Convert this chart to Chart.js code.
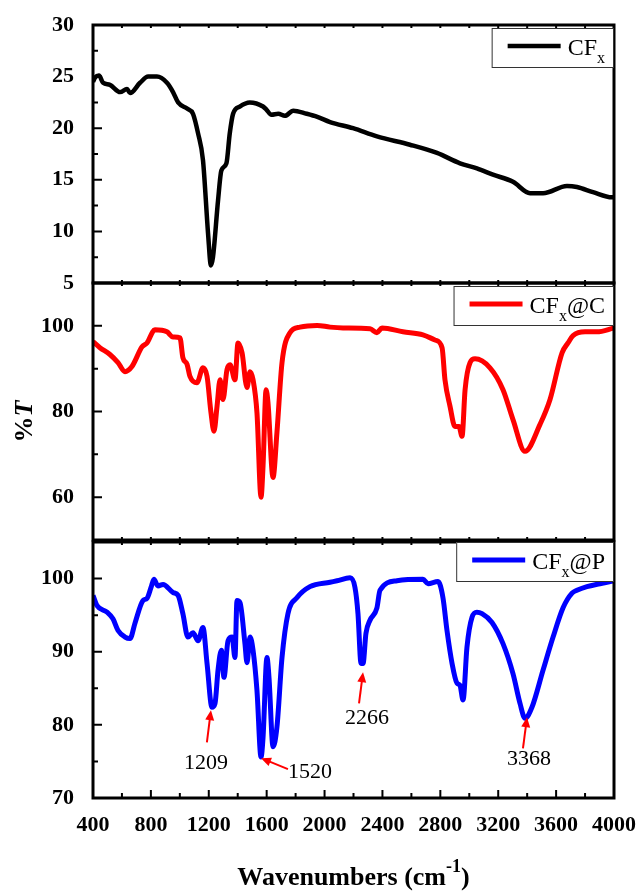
<!DOCTYPE html>
<html>
<head>
<meta charset="utf-8">
<script src="https://cdn.jsdelivr.net/npm/chart.js@4.4.1/dist/chart.umd.min.js"></script>
<style>
    html, body { margin: 0; padding: 0; background: #fff; }
    #wrap { position: relative; width: 642px; height: 893px; }
    canvas { position: absolute; left: 0; top: 0; }
</style>
</head>
<body>
<div id="wrap">
    <canvas id="panel1" width="642" height="893"></canvas>
    <canvas id="panel2" width="642" height="893"></canvas>
    <canvas id="panel3" width="642" height="893"></canvas>
</div>
<script>
// Data
const xTicks = [400, 800, 1200, 1600, 2000, 2400, 2800, 3200, 3600, 4000];
const yTicks1 = [5, 10, 15, 20, 25, 30];
const yTicks2 = [60, 80, 100];
const yTicks3 = [70, 80, 90, 100];

// CFx
const cfxWave = [400, 414, 441, 470, 517, 587, 635, 656, 725, 781, 842, 911, 953, 988, 1050, 1091, 1126, 1160, 1195, 1215, 1229, 1264, 1287, 1322, 1345, 1368, 1414, 1483, 1575, 1598, 1633, 1680, 1726, 1784, 1876, 1950, 2038, 2197, 2362, 2590, 2777, 2936, 3053, 3164, 3302, 3420, 3510, 3675, 3744, 3855, 3986, 4000];
const cfxT = [24.5, 24.9, 25.1, 24.4, 24.2, 23.5, 23.8, 23.4, 24.4, 25.0, 25.0, 24.4, 23.5, 22.5, 21.9, 21.4, 19.5, 16.9, 9.8, 6.7, 7.5, 13.0, 15.9, 16.6, 19.5, 21.4, 22.1, 22.5, 22.1, 21.8, 21.3, 21.4, 21.2, 21.7, 21.4, 21.1, 20.6, 20.0, 19.2, 18.4, 17.6, 16.6, 16.1, 15.5, 14.8, 13.7, 13.7, 14.4, 14.3, 13.8, 13.3, 13.3];

// CFx@C
const cfxcWave = [400, 448, 517, 573, 621, 669, 739, 773, 828, 911, 953, 1001, 1021, 1050, 1070, 1118, 1160, 1188, 1215, 1236, 1257, 1278, 1298, 1326, 1347, 1381, 1402, 1430, 1464, 1485, 1506, 1533, 1561, 1575, 1596, 1609, 1644, 1671, 1706, 1761, 1830, 1948, 2038, 2128, 2314, 2362, 2397, 2542, 2680, 2763, 2812, 2832, 2867, 2901, 2929, 2950, 2971, 3005, 3040, 3143, 3233, 3302, 3385, 3489, 3558, 3641, 3682, 3717, 3800, 3882, 4000];
const cfxcT = [96.3, 94.9, 93.3, 91.4, 89.3, 90.5, 95.1, 96.0, 99.1, 98.6, 97.4, 97.2, 92.6, 91.0, 88.2, 86.7, 90.2, 88.2, 79.8, 75.4, 81.2, 87.4, 82.8, 89.8, 90.9, 87.4, 96.0, 93.7, 85.6, 89.3, 87.4, 79.7, 60.0, 67.3, 85.1, 82.1, 64.6, 75.1, 91.4, 98.4, 99.7, 100.1, 99.7, 99.5, 99.3, 98.4, 99.5, 98.6, 97.9, 96.7, 94.9, 87.4, 81.2, 76.5, 76.5, 74.2, 85.1, 91.4, 92.3, 90.2, 85.1, 78.1, 70.7, 77.0, 82.8, 93.7, 96.0, 97.7, 98.6, 98.6, 99.5];

// CFx@P
const cfxpWave = [400, 428, 497, 538, 573, 621, 656, 690, 745, 773, 801, 821, 849, 884, 953, 988, 1021, 1056, 1091, 1126, 1160, 1188, 1222, 1243, 1264, 1287, 1305, 1333, 1361, 1381, 1395, 1416, 1450, 1464, 1485, 1506, 1533, 1561, 1575, 1602, 1616, 1644, 1671, 1706, 1747, 1810, 1899, 2038, 2086, 2176, 2210, 2231, 2252, 2266, 2286, 2314, 2362, 2383, 2500, 2680, 2715, 2784, 2818, 2846, 2881, 2915, 2936, 2957, 2984, 3019, 3053, 3088, 3157, 3233, 3302, 3351, 3385, 3433, 3510, 3579, 3648, 3710, 3744, 3813, 3903, 4000];
const cfxpT = [97.7, 96.3, 95.4, 94.5, 92.9, 92.0, 91.8, 93.9, 97.0, 97.3, 98.8, 99.9, 99.0, 99.2, 98.1, 97.7, 95.2, 92.0, 92.6, 91.5, 93.3, 88.4, 82.4, 82.9, 87.5, 90.2, 86.5, 91.5, 92.0, 89.2, 97.0, 96.7, 91.1, 88.5, 92.0, 90.2, 84.7, 75.6, 78.3, 89.2, 86.5, 77.0, 79.7, 89.2, 95.2, 97.4, 98.9, 99.5, 99.7, 100.1, 98.8, 95.2, 88.4, 88.4, 92.5, 94.3, 96.0, 98.4, 99.7, 99.9, 99.3, 99.6, 97.4, 92.9, 88.4, 85.7, 85.4, 83.4, 90.6, 94.7, 95.4, 95.2, 94.0, 91.1, 87.0, 82.9, 80.9, 82.4, 87.5, 92.0, 96.0, 98.0, 98.4, 98.9, 99.3, 99.7];

// Marked peaks in the CFx@P panel
const peakLabels = ["1209", "1520", "2266", "3368"];

const serif = '"Liberation Serif", "Times New Roman", serif';

// Box around each panel plus inward ticks
const framePlugin = {
    id: "frame",
    afterDraw(chart, args, opts) {
        const { ctx, chartArea: a, scales } = chart;
        ctx.save();
        ctx.strokeStyle = "#000";
        ctx.lineWidth = 2;
        ctx.beginPath();
        for (let v = 400; v <= 4000; v += 200) {
            const px = scales.x.getPixelForValue(v);
            const major = v % 400 === 0;
            ctx.moveTo(px, a.bottom);
            ctx.lineTo(px, a.bottom - (opts.bigBottom ? (major ? 8 : 5) : 3));
            ctx.moveTo(px, a.top);
            ctx.lineTo(px, a.top + 3);
        }
        for (let v = scales.y.min; v <= scales.y.max + 0.001; v += opts.minorStep) {
            const py = scales.y.getPixelForValue(v);
            const major = opts.majors.includes(v);
            ctx.moveTo(a.left, py);
            ctx.lineTo(a.left + (major ? 9 : 5), py);
        }
        ctx.stroke();
        ctx.lineWidth = 3;
        ctx.strokeRect(a.left, a.top, a.width, a.height);
        ctx.restore();
    }
};

// Boxed legend with subscript x
const specLegendPlugin = {
    id: "specLegend",
    afterDraw(chart, args, opts) {
        const { ctx, chartArea: a } = chart;
        const ds = chart.data.datasets[0];
        const main = ds.label.slice(0, 2);
        const rest = ds.label.slice(3);
        ctx.save();
        ctx.font = "24px " + serif;
        const wMain = ctx.measureText(main).width;
        const wRest = ctx.measureText(rest).width;
        ctx.font = "16px " + serif;
        const wSub = ctx.measureText("x").width;
        const tw = wMain + wSub + wRest;
        const lineLen = 53;
        const boxW = 16 + lineLen + 7 + tw + 8;
        const boxH = 39;
        const right = a.right - 1;
        const left = right - boxW;
        const top = a.top + opts.offsetTop;
        ctx.fillStyle = "#fff";
        ctx.fillRect(left, top, boxW, boxH);
        ctx.strokeStyle = "#333";
        ctx.lineWidth = 1;
        ctx.strokeRect(left + 0.5, top + 0.5, boxW, boxH);
        const cy = top + 18;
        ctx.strokeStyle = ds.borderColor;
        ctx.lineWidth = ds.borderWidth;
        ctx.beginPath();
        ctx.moveTo(left + 16, cy);
        ctx.lineTo(left + 16 + lineLen, cy);
        ctx.stroke();
        ctx.fillStyle = "#000";
        ctx.textBaseline = "alphabetic";
        let tx = left + 16 + lineLen + 7;
        ctx.font = "24px " + serif;
        ctx.fillText(main, tx, cy + 9);
        tx += wMain;
        ctx.font = "16px " + serif;
        ctx.fillText("x", tx, cy + 17);
        tx += wSub;
        ctx.font = "24px " + serif;
        ctx.fillText(rest, tx, cy + 9);
        ctx.restore();
    }
};

// Red arrows with peak positions
const peaksPlugin = {
    id: "peaks",
    afterDraw(chart, args, opts) {
        if (!opts.items) return;
        const { ctx, scales } = chart;
        ctx.save();
        opts.items.forEach((p, i) => {
            const x0 = scales.x.getPixelForValue(p.tail[0]);
            const y0 = scales.y.getPixelForValue(p.tail[1]);
            const x1 = scales.x.getPixelForValue(p.head[0]);
            const y1 = scales.y.getPixelForValue(p.head[1]);
            const ang = Math.atan2(y1 - y0, x1 - x0);
            ctx.strokeStyle = "#f00";
            ctx.fillStyle = "#f00";
            ctx.lineWidth = 2;
            ctx.beginPath();
            ctx.moveTo(x0, y0);
            ctx.lineTo(x1 - 6 * Math.cos(ang), y1 - 6 * Math.sin(ang));
            ctx.stroke();
            ctx.beginPath();
            ctx.moveTo(x1, y1);
            ctx.lineTo(x1 - 10 * Math.cos(ang) + 4.5 * Math.sin(ang), y1 - 10 * Math.sin(ang) - 4.5 * Math.cos(ang));
            ctx.lineTo(x1 - 10 * Math.cos(ang) - 4.5 * Math.sin(ang), y1 - 10 * Math.sin(ang) + 4.5 * Math.cos(ang));
            ctx.closePath();
            ctx.fill();
            ctx.fillStyle = "#000";
            ctx.font = "22px " + serif;
            ctx.textAlign = "center";
            ctx.textBaseline = "middle";
            ctx.fillText(peakLabels[i], scales.x.getPixelForValue(p.label[0]), scales.y.getPixelForValue(p.label[1]));
        });
        ctx.restore();
    }
};

// Axis titles (%T and wavenumbers)
const titlesPlugin = {
    id: "titles",
    afterDraw(chart, args, opts) {
        const { ctx, chartArea: a } = chart;
        ctx.save();
        ctx.fillStyle = "#000";
        if (opts.yTitle) {
            ctx.translate(25, (a.top + a.bottom) / 2 + 10);
            ctx.rotate(-Math.PI / 2);
            ctx.textBaseline = "middle";
            ctx.font = "bold 26px " + serif;
            const w1 = ctx.measureText("%").width;
            ctx.font = "italic bold 26px " + serif;
            const w2 = ctx.measureText("T").width;
            let tx = -(w1 + w2) / 2;
            ctx.font = "bold 26px " + serif;
            ctx.fillText("%", tx, 0);
            ctx.font = "italic bold 26px " + serif;
            ctx.fillText("T", tx + w1, 0);
        }
        if (opts.xTitle) {
            const base = a.bottom + 87;
            ctx.textBaseline = "alphabetic";
            ctx.font = "bold 26px " + serif;
            const s1 = "Wavenumbers (cm";
            const w1 = ctx.measureText(s1).width;
            const w3 = ctx.measureText(")").width;
            ctx.font = "bold 18px " + serif;
            const w2 = ctx.measureText("-1").width;
            let tx = (a.left + a.right) / 2 - (w1 + w2 + w3) / 2;
            ctx.font = "bold 26px " + serif;
            ctx.fillText(s1, tx, base);
            ctx.font = "bold 18px " + serif;
            ctx.fillText("-1", tx + w1, base - 13);
            ctx.font = "bold 26px " + serif;
            ctx.fillText(")", tx + w1 + w2, base);
        }
        ctx.restore();
    }
};

// Build one panel of the stack
function buildPanel(cfg) {
    const canvas = document.getElementById(cfg.canvasId);
    return new Chart(canvas, {
        type: "line",
        data: {
            datasets: [{
                label: cfg.label,
                data: cfg.wave.map((w, i) => ({ x: w, y: cfg.t[i] })),
                borderColor: cfg.color,
                borderWidth: cfg.lineWidth,
                pointRadius: 0,
                cubicInterpolationMode: "monotone",
                fill: false
            }]
        },
        options: {
            responsive: false,
            animation: false,
            devicePixelRatio: 1,
            events: [],
            layout: { padding: { left: 0, right: 28, top: cfg.padTop, bottom: cfg.padBottom } },
            plugins: {
                legend: { display: false },
                tooltip: { enabled: false },
                frame: { minorStep: cfg.minorStep, majors: cfg.yTicks, bigBottom: cfg.showX },
                specLegend: { offsetTop: cfg.legendTop },
                peaks: { items: cfg.peaks },
                titles: { yTitle: cfg.yTitle, xTitle: cfg.showX }
            },
            scales: {
                x: {
                    type: "linear",
                    min: 400,
                    max: 4000,
                    display: cfg.showX,
                    afterBuildTicks: s => { s.ticks = xTicks.map(v => ({ value: v })); },
                    afterFit: s => {
                        if (cfg.showX) s.height = 95;
                        s.paddingLeft = 0;
                        s.paddingRight = 0;
                    },
                    grid: { display: false },
                    border: { display: false },
                    ticks: {
                        color: "#000",
                        font: { family: serif, size: 22, weight: "bold" },
                        padding: 6,
                        maxRotation: 0,
                        autoSkip: false,
                        callback: v => String(v)
                    }
                },
                y: {
                    min: cfg.yMin,
                    max: cfg.yMax,
                    afterBuildTicks: s => { s.ticks = cfg.yTicks.map(v => ({ value: v })); },
                    afterFit: s => { s.width = 93; },
                    grid: { display: false },
                    border: { display: false },
                    ticks: { color: "#000", font: { family: serif, size: 22, weight: "bold" }, padding: 11 }
                }
            }
        },
        plugins: [framePlugin, specLegendPlugin, peaksPlugin, titlesPlugin]
    });
}

buildPanel({
    canvasId: "panel1", label: "CFx", wave: cfxWave, t: cfxT, color: "#000", lineWidth: 4.5,
    yMin: 5, yMax: 30, yTicks: yTicks1, minorStep: 2.5,
    padTop: 25, padBottom: 610, showX: false, legendTop: 3
});

buildPanel({
    canvasId: "panel2", label: "CFx@C", wave: cfxcWave, t: cfxcT, color: "#ff0000", lineWidth: 5,
    yMin: 50, yMax: 110, yTicks: yTicks2, minorStep: 10,
    padTop: 283, padBottom: 353, showX: false, legendTop: 3, yTitle: true
});

buildPanel({
    canvasId: "panel3", label: "CFx@P", wave: cfxpWave, t: cfxpT, color: "#0000ff", lineWidth: 5,
    yMin: 70, yMax: 105, yTicks: yTicks3, minorStep: 5,
    padTop: 542, padBottom: 0, showX: true, legendTop: 0,
    peaks: [
        { tail: [1187, 77.6], head: [1215, 82.0], label: [1181, 74.7] },
        { tail: [1747, 73.95], head: [1561, 75.45], label: [1899, 73.5] },
        { tail: [2238, 82.95], head: [2266, 87.2], label: [2293, 80.9] },
        { tail: [3371, 76.8], head: [3399, 81.05], label: [3413, 75.3] }
    ]
});
</script>
</body>
</html>
